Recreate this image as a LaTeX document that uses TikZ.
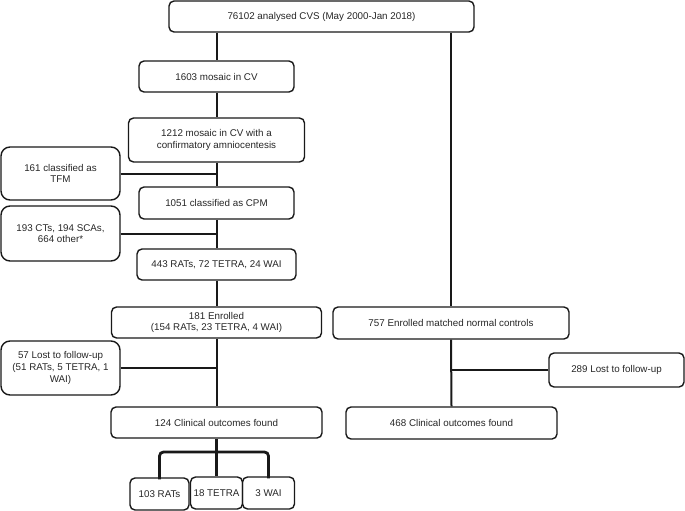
\documentclass[tikz,border=0pt]{standalone}
\usepackage{fontspec}
\setmainfont{Liberation Sans}

\begin{document}
\begin{tikzpicture}[x=1pt,y=-1pt,
  box/.style={rectangle, draw=black!90, line width=1.4pt, rounded corners=5pt, align=center, inner sep=1pt, text=black!85, font=\fontsize{9.8}{11.6}\selectfont},
  sidebox/.style={box, rounded corners=9pt, minimum width=119pt},
  flow/.style={draw=black!90, line width=2pt},
  branch/.style={draw=black!90, line width=2.8pt, rounded corners=4pt}]
\useasboundingbox (0,0) rectangle (685,511);

\node[box, minimum width=305pt, minimum height=31pt] (all) at (321.5,16.5) {76102 analysed CVS (May 2000-Jan 2018)};
\node[box, minimum width=155pt, minimum height=31pt] (mos) at (216.5,76.5) {1603 mosaic in CV};
\node[box, minimum width=176pt, minimum height=44pt] (amnio) at (216.5,140) {1212 mosaic in CV with a\\confirmatory amniocentesis};
\node[sidebox, minimum height=53pt] (tfm) at (60.5,173.5) {161 classified as\\TFM};
\node[box, minimum width=155pt, minimum height=32pt] (cpm) at (216.5,203) {1051 classified as CPM};
\node[sidebox, minimum height=55pt] (other) at (60.5,233.5) {193 CTs, 194 SCAs,\\664 other*};
\node[box, minimum width=159pt, minimum height=31pt] (rats) at (216.5,264.5) {443 RATs, 72 TETRA, 24 WAI};
\node[box, minimum width=210pt, minimum height=31pt] (enr) at (216.5,322.5) {181 Enrolled\\(154 RATs, 23 TETRA, 4 WAI)};
\node[box, minimum width=236pt, minimum height=32pt] (ctrl) at (451,323) {757 Enrolled matched normal controls};
\node[sidebox, minimum height=54pt] (lost) at (60.5,368) {57 Lost to follow-up\\(51 RATs, 5 TETRA, 1\\WAI)};
\node[box, minimum width=135pt, minimum height=34pt] (lostc) at (616.5,370) {289 Lost to follow-up};
\node[box, minimum width=211pt, minimum height=31pt] (out) at (216.5,422.5) {124 Clinical outcomes found};
\node[box, minimum width=211pt, minimum height=32pt] (outc) at (451.5,423) {468 Clinical outcomes found};
\node[box, minimum width=59pt, minimum height=32pt] (r103) at (159.5,494) {103 RATs};
\node[box, minimum width=52pt, minimum height=32pt] (t18) at (216.5,493) {18 TETRA};
\node[box, minimum width=52pt, minimum height=32pt] (w3) at (268.5,493) {3 WAI};
\coordinate (split) at (216.5,452);

\draw[flow] (all.south -| mos.north) -- (mos.north);
\draw[flow] (mos.south) -- (amnio.north);
\draw[flow] (amnio.south) -- (cpm.north);
\draw[flow] (tfm.east) -- (tfm.east -| amnio.south);
\draw[flow] (cpm.south) -- (rats.north);
\draw[flow] (other.east) -- (other.east -| cpm.south);
\draw[flow] (rats.south) -- (enr.north);
\draw[flow] (enr.south) -- (out.north);
\draw[flow] (lost.east) -- (lost.east -| enr.south);
\draw[flow] (all.south -| ctrl.north) -- (ctrl.north);
\draw[flow] (ctrl.south) -- (outc.north);
\draw[flow] (lostc.west) -- (lostc.west -| ctrl.south);
\draw[branch] (out.south) -- (t18.north);
\draw[branch] ([yshift=-2pt]r103.north) |- (split) -| ([yshift=-2pt]w3.north);
\end{tikzpicture}
\end{document}
